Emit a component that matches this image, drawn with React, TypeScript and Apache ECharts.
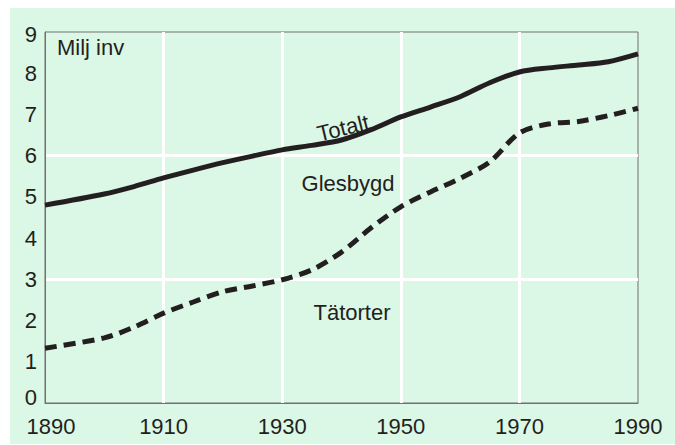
import React, { useEffect, useRef } from "react";
import * as echarts from "echarts";

const years = [1890, 1900, 1905, 1910, 1915, 1920, 1925, 1930, 1935, 1940, 1945, 1950, 1955, 1960, 1965, 1970, 1975, 1980, 1985, 1990];
const totalt = [4.8, 5.07, 5.25, 5.46, 5.65, 5.83, 5.99, 6.14, 6.25, 6.38, 6.63, 6.94, 7.18, 7.43, 7.77, 8.03, 8.13, 8.2, 8.28, 8.47];
const tatorter = [1.33, 1.58, 1.84, 2.18, 2.45, 2.7, 2.84, 2.99, 3.23, 3.66, 4.25, 4.76, 5.12, 5.45, 5.85, 6.55, 6.77, 6.83, 6.97, 7.15];
const yTicks = [0, 1, 2, 3, 4, 5, 6, 7, 8, 9];
const xTicks = [1890, 1910, 1930, 1950, 1970, 1990];

const FONT = "Liberation Sans, Arial, sans-serif";
const INK = "#231f20";
const GREEN = "#dbf7e5";

export default function App() {
  const ref = useRef<HTMLDivElement>(null);
  useEffect(() => {
    if (!ref.current) return;
    const chart = echarts.init(ref.current, null, { renderer: "svg" });
    const pair = (ys: number[]) => years.map((y, i) => [y, ys[i]]);
    chart.setOption({
      animation: false,
      backgroundColor: "transparent",
      graphic: [
        { type: "rect", z: -10, shape: { x: 10, y: 8, width: 665, height: 436 }, style: { fill: GREEN } },
        { type: "text", x: 57, y: 47, style: { text: "Milj inv", font: `22px ${FONT}`, fill: INK, verticalAlign: "middle" } },
        { type: "text", x: 343, y: 128, rotation: 0.24, style: { text: "Totalt", font: `22px ${FONT}`, fill: INK, align: "center", verticalAlign: "middle" } },
        { type: "text", x: 348, y: 183, style: { text: "Glesbygd", font: `22px ${FONT}`, fill: INK, align: "center", verticalAlign: "middle" } },
        { type: "text", x: 352, y: 312, style: { text: "Tätorter", font: `22px ${FONT}`, fill: INK, align: "center", verticalAlign: "middle" } },
      ],
      grid: {
        left: 45, top: 32, right: 37, bottom: 42,
        show: true, backgroundColor: GREEN, borderColor: "#707070", borderWidth: 1,
      },
      xAxis: {
        type: "value", min: xTicks[0], max: xTicks[xTicks.length - 1], interval: 20,
        axisLine: { show: true, lineStyle: { color: "#707070", width: 1 } },
        axisTick: { show: false },
        axisLabel: {
          color: INK, fontSize: 22, fontFamily: FONT, margin: 12,
          formatter: (v: number) => (v === xTicks[0] ? `{f|${v}}` : String(v)),
          rich: { f: { fontSize: 22, fontFamily: FONT, color: INK, padding: [0, 0, 0, 12] } },
        },
        splitLine: { show: true, showMinLine: false, showMaxLine: false, lineStyle: { color: "#ffffff", width: 3 } },
      },
      yAxis: [
        {
          type: "value", min: yTicks[0], max: yTicks[yTicks.length - 1], interval: 1,
          axisLine: { show: true, lineStyle: { color: "#707070", width: 1 } },
          axisTick: { show: false },
          axisLabel: {
            color: INK, fontSize: 22, fontFamily: FONT, margin: 8,
            formatter: (v: number) => (v === 0 ? `{z|${v}}` : v === 9 ? `{n|${v}}` : String(v)),
            rich: {
              z: { fontSize: 22, fontFamily: FONT, color: INK, padding: [0, 0, 12, 0] },
              n: { fontSize: 22, fontFamily: FONT, color: INK, padding: [5, 0, 0, 0] },
            },
          },
          splitLine: { show: false },
        },
        {
          type: "value", min: 0, max: 9, interval: 3, position: "left",
          axisLine: { show: false }, axisTick: { show: false }, axisLabel: { show: false },
          splitLine: { show: true, showMinLine: false, showMaxLine: false, lineStyle: { color: "#ffffff", width: 3 } },
        },
      ],
      series: [
        {
          name: "Totalt", type: "line", data: pair(totalt), smooth: 0.3, showSymbol: false, symbol: "none",
          lineStyle: { color: INK, width: 5 }, z: 5,
        },
        {
          name: "Tätorter", type: "line", data: pair(tatorter), smooth: 0.3, showSymbol: false, symbol: "none",
          lineStyle: { color: INK, width: 5, type: [12, 7] }, z: 5,
        },
      ],
    });
    return () => chart.dispose();
  }, []);
  return <div ref={ref} style={{ position: "absolute", left: 0, top: 0, width: 675, height: 445 }} />;
}
